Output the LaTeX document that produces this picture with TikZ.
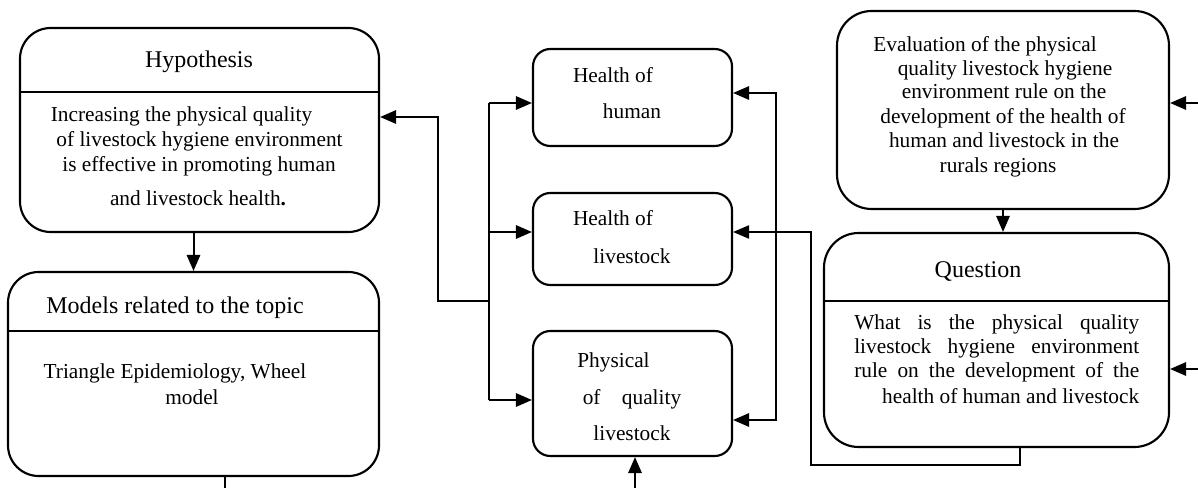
\documentclass[tikz,border=0pt]{standalone}
\usepackage{fontspec}
\setmainfont{Liberation Serif}
\usetikzlibrary{arrows.meta,calc}
\begin{document}
\begin{tikzpicture}[x=0.75pt,y=-0.75pt,
  bigbox/.style={draw, line width=1.6pt, rounded corners=23pt, inner sep=0pt},
  smallbox/.style={draw, line width=1.6pt, rounded corners=13pt, inner sep=0pt,
    minimum width=199*0.75pt},
  divline/.style={line width=1.5pt},
  txt/.style={anchor=base, inner sep=0pt, font=\fontsize{16}{19}\selectfont},
  ttl/.style={anchor=base, inner sep=0pt, font=\fontsize{18}{21}\selectfont},
  arr/.style={line width=1.5pt, -{Triangle[length=12pt,width=10pt]}},
  dblarr/.style={line width=1.5pt, {Triangle[length=12pt,width=10pt]}-{Triangle[length=12pt,width=10pt]}},
  thinarr/.style={line width=1pt, -{Triangle[length=12pt,width=10pt]}},
  plain/.style={line width=1.5pt}]
\useasboundingbox (0,0) rectangle (1198,488);

% ---------- boxes ----------
\node[bigbox, minimum width=359*0.75pt, minimum height=204*0.75pt] (hyp) at (199.5,130) {};
\node[bigbox, minimum width=371*0.75pt, minimum height=204*0.75pt] (mod) at (193.5,374) {};
\node[smallbox, minimum height=97*0.75pt] (hum) at (632.5,97.5) {};
\node[smallbox, minimum height=92*0.75pt] (liv) at (632.5,239) {};
\node[smallbox, minimum height=125*0.75pt] (phy) at (632.5,393.5) {};
\node[bigbox, rounded corners=26pt, minimum width=332*0.75pt, minimum height=198*0.75pt] (eva) at (1003,110) {};
\node[bigbox, rounded corners=26pt, minimum width=345*0.75pt, minimum height=214*0.75pt] (que) at (996.5,340) {};

% dividers
\coordinate (hdiv) at (0,92);
\coordinate (mdiv) at (0,331);
\coordinate (qdiv) at (0,301);
\draw[divline] (hyp.west |- hdiv) -- (hyp.east |- hdiv);
\draw[divline] (mod.west |- mdiv) -- (mod.east |- mdiv);
\draw[divline] (que.west |- qdiv) -- (que.east |- qdiv);

% ---------- texts ----------
\node[ttl] (hypT) at (199,68) {Hypothesis};
\node[txt] (hyp1) at (181.5,122) {Increasing the physical quality};
\node[txt] (hyp2) at (199.5,147) {of livestock hygiene environment};
\node[txt] (hyp3) at (199,172) {is effective in promoting human};
\node[txt] (hyp4) at (198,206) {and livestock health\textbf{.}};

\node[ttl] (modT) at (175,313) {Models related to the topic};
\node[txt] (mod1) at (175,378) {Triangle Epidemiology, Wheel};
\node[txt] (mod2) at (192,404) {model};

\node[txt] (hum1) at (613,83) {Health of};
\node[txt] (hum2) at (632,119) {human};
\node[txt] (liv1) at (613,226) {Health of};
\node[txt] (liv2) at (632,263) {livestock};
\node[txt] (phy1) at (613.5,367) {Physical};
\node[txt] (phy2) at (632,404) {of\hspace{1em}quality};
\node[txt] (phy3) at (632,440) {livestock};

\node[txt] (eva1) at (985,52) {Evaluation of the physical};
\node[txt] (eva2) at (1005,76) {quality livestock hygiene};
\node[txt] (eva3) at (1004,99) {environment rule on the};
\node[txt] (eva4) at (1003,124) {development of the health of};
\node[txt] (eva5) at (1004,148) {human and livestock in the};
\node[txt] (eva6) at (998,173) {rurals regions};

\node[ttl] (queT) at (978,277) {Question};
\node[txt, anchor=base west] (que1) at (854,329) {\makebox[213.75pt][s]{What is the physical quality}};
\node[txt, anchor=base west] (que2) at (854,353) {\makebox[213.75pt][s]{livestock hygiene environment}};
\node[txt, anchor=base west] (que3) at (854,377) {\makebox[213.75pt][s]{rule on the development of the}};
\node[txt, anchor=base west] (que4) at (854,403) {\makebox[213.75pt][r]{health of human and livestock}};

% ---------- connectors ----------
% hypothesis -> models
\draw[arr] (hyp.south -| mod.north) -- (mod.north);
% models bottom line
\coordinate (mbot) at (225,488);
\draw[plain] (mod.south -| mbot) -- (mbot);
% arrow into physical from below
\coordinate (pbot) at (635,488);
\draw[arr] (pbot) -- (pbot |- phy.south);

% left network
\coordinate (bt) at (489,103);
\coordinate (bm) at (489,232);
\coordinate (bj) at (489,301);
\coordinate (bb) at (489,400);
\coordinate (hin) at (438,117);
\draw[plain] (bt) -- (bb);
\draw[arr] (bt) -- (hum.west |- bt);
\draw[arr] (bm) -- (liv.west |- bm);
\draw[arr] (bb) -- (phy.west |- bb);
\draw[arr] (bj) -| (hin) -- (hyp.east |- hin);

% right double arrow human <-> physical
\coordinate (rt) at (776,93);
\coordinate (rb) at (776,420);
\draw[dblarr] (hum.east |- rt) -- (rt) -- (rb) -- (phy.east |- rb);

% loop from question to livestock
\coordinate (q1) at (1020,465);
\coordinate (q2) at (811,232);
\draw[thinarr] (que.south -| q1) -- (q1) -| (q2) -- (liv.east |- q2);

% evaluation -> question
\draw[arr] (eva.south) -- (eva.south |- que.north);

% arrows from right edge
\coordinate (e1) at (1198,103);
\coordinate (e2) at (1198,369);
\draw[arr] (e1) -- (eva.east |- e1);
\draw[arr] (e2) -- (que.east |- e2);
\end{tikzpicture}
\end{document}
